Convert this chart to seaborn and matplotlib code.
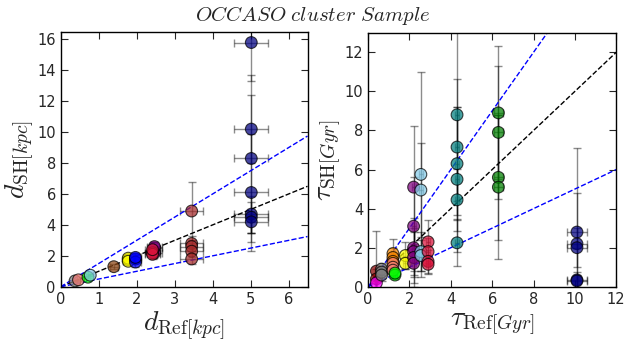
import numpy as np
import pandas as pd
import matplotlib
matplotlib.use("Agg")
import matplotlib.pyplot as plt
import seaborn as sns

# ---------------- data ----------------
# Left panel: distances [kpc]
d_colors = ["grey", "salmon", "lime", "skyblue", "saddlebrown", "yellow", "blue",
            "purple", "crimson", "brown", "navy"]
d_ref = [0.38, 0.47, 0.72, 0.78, 1.40, 1.78, 1.97, 2.47, 2.42, 3.45, 5.02]
d_ref_err = [0.05, 0.05, 0.06, 0.07, 0.10, 0.15, 0.15, 0.20, 0.20, 0.30, 0.45]
d_sh = [[0.38], [0.45], [0.62], [0.75], [1.30], [1.75, 1.85, 1.65], [1.80, 1.60, 1.90],
        [2.50, 2.20, 2.60], [2.20, 2.10, 2.40], [4.90, 2.80, 2.60, 2.30, 1.80],
        [15.8, 10.2, 8.3, 6.1, 4.7, 4.5, 4.2]]
d_sh_err = [[0.05], [0.05], [0.08], [0.08], [0.15], [0.25, 0.2, 0.2], [0.3, 0.3, 0.3],
            [0.4, 0.35, 0.3], [0.35, 0.3, 0.3], [1.9, 0.5, 0.4, 0.4, 0.3],
            [2.5, 2.2, 5.4, 3.8, 1.2, 1.0, 0.7]]

# Right panel: ages [Gyr]
t_colors = ["darkred", "magenta", "grey", "darkorange", "salmon", "lime", "yellow",
            "purple", "skyblue", "crimson", "teal", "green", "navy"]
t_ref = [0.40, 0.40, 0.65, 1.20, 1.20, 1.30, 1.80, 2.20, 2.55, 2.90, 4.30, 6.30, 10.10]
t_ref_err = [0.05, 0.05, 0.10, 0.10, 0.10, 0.10, 0.10, 0.10, 0.10, 0.10, 0.10, 0.20, 0.50]
t_sh = [[0.80, 0.40], [0.20], [0.90, 0.75, 0.60], [1.70, 1.50, 1.30], [1.20, 1.00, 0.85],
        [0.60, 0.70], [1.60, 1.20], [5.10, 3.10, 2.00, 1.80, 1.50, 1.20],
        [5.75, 4.95, 1.80, 1.60], [2.30, 1.80, 1.30, 1.15],
        [8.80, 7.15, 6.30, 5.50, 4.45, 2.25], [8.90, 7.90, 5.60, 5.10],
        [2.80, 2.20, 2.00, 0.35, 0.30]]
t_sh_err = [[2.05, 0.5], [0.3], [0.3, 0.3, 0.3], [0.75, 0.5, 0.4], [0.4, 0.4, 0.4],
            [0.2, 0.2], [0.7, 0.3], [3.15, 2.5, 1.5, 1.0, 1.5, 1.0],
            [5.25, 2.4, 1.0, 0.8], [1.1, 0.7, 0.6, 0.5],
            [4.4, 3.5, 2.9, 3.7, 1.6, 1.2], [3.4, 3.4, 3.2, 3.7],
            [4.3, 2.6, 1.0, 0.4, 0.3]]


def to_frame(colors, xref, xerr, ys, yerrs):
    rows = []
    for i, c in enumerate(colors):
        for y, ye in zip(ys[i], yerrs[i]):
            rows.append(dict(cluster=c, x=xref[i], xe=xerr[i], y=y, ye=ye))
    return pd.DataFrame(rows)


df_d = to_frame(d_colors, d_ref, d_ref_err, d_sh, d_sh_err)
df_t = to_frame(t_colors, t_ref, t_ref_err, t_sh, t_sh_err)

# ---------------- style ----------------
sns.set_style("ticks")
plt.rcParams.update({
    "mathtext.fontset": "cm",
    "xtick.direction": "in", "ytick.direction": "in",
    "xtick.top": True, "ytick.right": True,
    "xtick.major.size": 5, "ytick.major.size": 5,
    "xtick.labelsize": 10.5, "ytick.labelsize": 10.5,
    "axes.edgecolor": "black", "axes.linewidth": 1.0,
})
plt.rcParams["font.family"] = ["DejaVu Sans"]

fig = plt.figure(figsize=(6.25, 3.41), dpi=100)
ax1 = fig.add_axes([0.097, 0.159, 0.395, 0.748])
ax2 = fig.add_axes([0.589, 0.159, 0.397, 0.745])


def draw(ax, df, colors, xmax, ymax):
    ax.errorbar(df["x"], df["y"], xerr=df["xe"], yerr=df["ye"], fmt="none",
                ecolor="black", alpha=0.45, capsize=3, elinewidth=1, zorder=1)
    sns.scatterplot(data=df, x="x", y="y", hue="cluster",
                    palette={c: c for c in colors}, hue_order=colors,
                    s=72, alpha=0.72, edgecolor="black", linewidth=0.8,
                    legend=False, ax=ax, zorder=3)
    xx = np.array([0, xmax])
    ax.plot(xx, xx, "k--", lw=1, zorder=2)
    ax.plot(xx, 1.5 * xx, "b--", lw=1, zorder=2)
    ax.plot(xx, 0.5 * xx, "b--", lw=1, zorder=2)
    ax.set_xlim(0, xmax)
    ax.set_ylim(0, ymax)


draw(ax1, df_d, d_colors, 6.5, 16.5)
ax1.set_xticks(range(0, 7))
ax1.set_yticks(range(0, 17, 2))
ax1.set_xlabel(r"$d_{\rm Ref[\mathit{kpc}]}$", fontsize=20, labelpad=2)
ax1.set_ylabel(r"$d_{\rm SH[\mathit{kpc}]}$", fontsize=20, labelpad=1)

draw(ax2, df_t, t_colors, 12, 13)
ax2.set_xticks(range(0, 13, 2))
ax2.set_yticks(range(0, 13, 2))
ax2.set_xlabel(r"$\tau_{\rm Ref[\mathit{Gyr}]}$", fontsize=20, labelpad=2)
ax2.set_ylabel(r"$\tau_{\rm SH[\mathit{Gyr}]}$", fontsize=20, labelpad=1)

fig.text(0.5, 0.955, r"$OCCASO\ cluster\ Sample$", ha="center", va="center", fontsize=15)

fig.savefig("out.png", dpi=100)
